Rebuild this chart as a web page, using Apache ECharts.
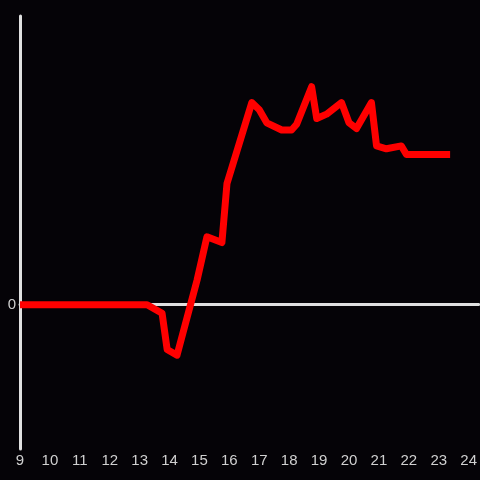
<!DOCTYPE html>
<html>
<head>
<meta charset="utf-8">
<script src="https://cdn.jsdelivr.net/npm/echarts@6/dist/echarts.min.js"></script>
<style>
  html, body { margin: 0; padding: 0; background: #050307; }
  #chart { width: 480px; height: 480px; }
</style>
</head>
<body>
<div id="chart"></div>
<script>
// hour of day, value
const hours = [9, 13.25, 13.75, 13.92, 14.25, 14.92, 15.25, 15.75, 15.92, 16.75, 17.0, 17.25, 17.75,
  18.08, 18.25, 18.75, 18.92, 19.25, 19.75, 20.0, 20.25, 20.75, 20.92, 21.25, 21.75, 21.92, 23.38];
const values = [0, 0, -0.06, -0.31, -0.35, 0.17, 0.47, 0.43, 0.84, 1.40, 1.35, 1.26, 1.21,
  1.21, 1.25, 1.51, 1.29, 1.32, 1.40, 1.26, 1.22, 1.40, 1.10, 1.08, 1.10, 1.04, 1.04];
const xTicks = [9, 10, 11, 12, 13, 14, 15, 16, 17, 18, 19, 20, 21, 22, 23, 24];

const chart = echarts.init(document.getElementById('chart'));

const labelFont = { color: '#d0d0d0', fontSize: 15, fontFamily: 'Liberation Sans' };

chart.setOption({
  backgroundColor: '#050307',
  animation: false,
  grid: { left: 20, right: 0, top: 16, bottom: 31 },
  xAxis: [
    {
      // zero line
      type: 'value',
      min: 9,
      max: 24.333,
      interval: 1,
      axisLine: { onZero: true, lineStyle: { color: '#e0e0e0', width: 3 } },
      axisTick: { show: false },
      axisLabel: { show: false },
      splitLine: { show: false }
    },
    {
      // labels at the bottom
      type: 'value',
      position: 'bottom',
      min: 9,
      max: 24.333,
      interval: 1,
      axisLine: { show: false, onZero: false },
      axisTick: { show: false },
      axisLabel: {
        ...labelFont,
        margin: 4,
        showMaxLabel: false,
        formatter: v => (xTicks.includes(v) ? String(v) : '')
      },
      splitLine: { show: false }
    }
  ],
  yAxis: {
    type: 'value',
    min: -1,
    max: 2,
    interval: 1,
    axisLine: { show: true, onZero: false, lineStyle: { color: '#e0e0e0', width: 3 } },
    axisTick: { show: false },
    axisLabel: { ...labelFont, margin: 4, formatter: v => (v === 0 ? '0' : '') },
    splitLine: { show: false }
  },
  series: [
    {
      type: 'line',
      xAxisIndex: 0,
      data: hours.map((h, i) => [h, values[i]]),
      showSymbol: false,
      lineStyle: { color: '#ff0000', width: 7, cap: 'butt', join: 'round' },
      z: 3
    }
  ]
});
</script>
</body>
</html>
